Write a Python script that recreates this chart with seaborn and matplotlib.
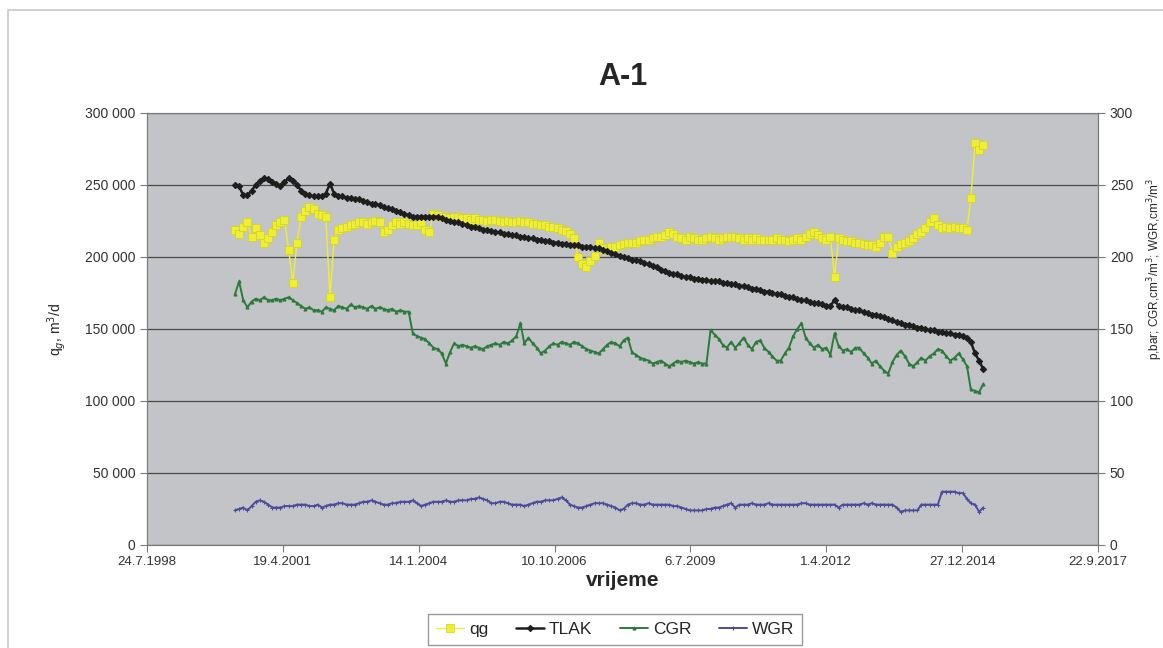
import pandas as pd
import matplotlib.pyplot as plt
import seaborn as sns
from matplotlib.patches import Rectangle
from matplotlib.ticker import FuncFormatter

# mjesečni podaci, 5/2000 - 6/2015
mjeseci = pd.date_range("2000-05", "2015-06", freq="MS")

qg = [
    219000, 216000, 221000, 224000, 214000, 220000, 215000, 210000, 213000, 217000, 222000, 224000,
    226000, 205000, 182000, 210000, 228000, 232000, 235000, 233000, 230000, 229000, 228000, 172000,
    212000, 219000, 220000, 221000, 222000, 223000, 224000, 224000, 223000, 224000, 225000, 224000,
    217000, 219000, 222000, 224000, 223000, 224000, 223000, 222000, 222000, 224000, 219000, 217000,
    230000, 229000, 228000, 228000, 227000, 228000, 228000, 227000, 227000, 226000, 227000, 226000,
    226000, 225000, 226000, 226000, 225000, 224000, 225000, 224000, 224000, 225000, 224000, 224000,
    223000, 223000, 222000, 222000, 221000, 221000, 220000, 219000, 218000, 216000, 213000, 200000,
    195000, 193000, 197000, 201000, 210000, 206000, 205000, 207000, 207000, 208000, 209000, 210000,
    210000, 210000, 211000, 212000, 212000, 213000, 214000, 214000, 215000, 217000, 216000, 214000,
    213000, 212000, 214000, 213000, 212000, 212000, 213000, 214000, 213000, 212000, 213000, 214000,
    214000, 214000, 213000, 212000, 213000, 212000, 213000, 212000, 212000, 212000, 212000, 213000,
    212000, 212000, 211000, 212000, 213000, 212000, 214000, 216000, 217000, 215000, 213000, 212000,
    214000, 186000, 213000, 212000, 211000, 211000, 210000, 210000, 209000, 208000, 208000, 207000,
    210000, 214000, 214000, 203000, 207000, 209000, 210000, 211000, 213000, 216000, 217000, 220000,
    224000, 227000, 222000, 220000, 221000, 220000, 221000, 220000, 220000, 219000, 241000, 279000,
    274000, 278000,
]

tlak = [
    250, 249, 243, 243, 246, 250, 253, 255, 254, 252, 251, 249,
    252, 255, 253, 250, 246, 244, 243, 242, 242, 242, 244, 251,
    244, 242, 242, 241, 241, 240, 240, 239, 238, 237, 237, 236,
    235, 234, 233, 232, 231, 230, 229, 228, 228, 228, 228, 228,
    228, 228, 227, 226, 225, 224, 224, 223, 222, 221, 221, 220,
    219, 219, 218, 217, 217, 216, 216, 215, 215, 214, 214, 213,
    213, 212, 212, 211, 211, 210, 210, 209, 209, 208, 208, 208,
    207, 207, 207, 206, 206, 205, 204, 203, 202, 201, 200, 199,
    198, 198, 197, 196, 195, 194, 193, 191, 190, 189, 188, 188,
    187, 186, 186, 185, 185, 184, 184, 183, 183, 183, 182, 182,
    181, 181, 180, 180, 179, 178, 178, 177, 176, 176, 175, 174,
    174, 173, 172, 172, 171, 170, 170, 169, 168, 168, 167, 166,
    166, 170, 166, 165, 165, 164, 163, 163, 162, 161, 160, 160,
    159, 158, 157, 156, 155, 154, 153, 153, 152, 151, 151, 150,
    149, 149, 148, 148, 147, 147, 146, 146, 145, 144, 141, 133,
    128, 122,
]

cgr = [
    174, 183, 170, 165, 169, 171, 170, 172, 170, 170, 171, 170,
    171, 172, 170, 168, 166, 164, 165, 163, 163, 162, 165, 164,
    163, 166, 165, 164, 167, 165, 166, 165, 164, 166, 164, 165,
    164, 163, 164, 162, 163, 162, 162, 147, 145, 144, 143, 140,
    137, 136, 133, 126, 134, 140, 138, 139, 138, 137, 138, 137,
    136, 138, 139, 140, 139, 141, 140, 142, 145, 154, 140, 144,
    140, 137, 133, 135, 138, 140, 139, 141, 140, 139, 141, 140,
    138, 136, 135, 134, 133, 136, 139, 141, 140, 138, 142, 144,
    134, 132, 130, 129, 128, 126, 127, 128, 126, 124, 126, 128,
    127, 128, 127, 126, 127, 126, 126, 149, 146, 143, 139, 137,
    141, 137, 140, 144, 139, 136, 141, 142, 137, 134, 131, 128,
    128, 133, 137, 145, 150, 154, 144, 140, 137, 139, 136, 137,
    132, 147, 138, 135, 136, 134, 137, 137, 133, 130, 126, 128,
    124, 121, 119, 127, 132, 135, 131, 126, 124, 127, 130, 128,
    131, 133, 136, 135, 131, 128, 130, 133, 129, 124, 108, 107,
    106, 112,
]

wgr = [
    24, 25, 26, 24, 27, 30, 31, 30, 28, 26, 26, 26,
    27, 27, 27, 28, 28, 28, 27, 27, 28, 26, 27, 28,
    28, 29, 29, 28, 28, 28, 29, 30, 30, 31, 30, 29,
    28, 28, 29, 29, 30, 30, 30, 31, 29, 27, 28, 29,
    30, 30, 30, 31, 30, 30, 31, 31, 31, 32, 32, 33,
    32, 31, 29, 29, 30, 30, 29, 28, 28, 28, 27, 28,
    29, 30, 30, 31, 31, 31, 32, 33, 31, 28, 27, 26,
    26, 27, 28, 29, 29, 29, 28, 27, 26, 24, 25, 28,
    29, 29, 28, 28, 29, 28, 28, 28, 28, 28, 27, 27,
    26, 25, 24, 24, 24, 24, 25, 25, 26, 26, 27, 28,
    29, 26, 28, 28, 28, 29, 28, 28, 28, 29, 28, 28,
    28, 28, 28, 28, 28, 29, 29, 28, 28, 28, 28, 28,
    28, 28, 26, 28, 28, 28, 28, 28, 29, 28, 29, 28,
    28, 28, 28, 28, 26, 23, 24, 24, 24, 24, 28, 28,
    28, 28, 28, 37, 37, 37, 37, 36, 36, 32, 29, 28,
    23, 26,
]

x_oznake = ["24.7.1998", "19.4.2001", "14.1.2004", "10.10.2006",
            "6.7.2009", "1.4.2012", "27.12.2014", "22.9.2017"]
x_pozicije = pd.to_datetime(x_oznake, format="%d.%m.%Y")

sns.set_style("white")
plt.rcParams["font.family"] = ["Liberation Sans", "DejaVu Sans"]

fig = plt.figure(figsize=(11.63, 6.48), dpi=100)
fig.patches.append(Rectangle((0.007, -0.05), 1.1, 1.035, transform=fig.transFigure,
                             fill=False, edgecolor="#c8c8c8", linewidth=1.2))

ax = fig.add_axes([0.1264, 0.159, 0.8177, 0.6667])
ax.set_facecolor("#c2c4c7")
ax2 = ax.twinx()

# qg na lijevoj osi
sns.lineplot(x=mjeseci, y=qg, ax=ax, color="#eeee3a", linewidth=1.0, marker="s",
             markersize=5.5, markeredgecolor="#d4d428", markeredgewidth=0.6, label="qg", zorder=3)

# tlak, CGR, WGR na desnoj osi
sns.lineplot(x=mjeseci, y=tlak, ax=ax2, color="#1e1e1e", linewidth=1.8, marker="D",
             markersize=3.2, markeredgecolor="#1e1e1e", label="TLAK")
sns.lineplot(x=mjeseci, y=cgr, ax=ax2, color="#2e7a3c", linewidth=1.4, marker="^",
             markersize=2.2, markeredgecolor="#2e7a3c", label="CGR")
sns.lineplot(x=mjeseci, y=wgr, ax=ax2, color="#4a4c9c", linewidth=1.4, marker="+",
             markersize=2.5, markeredgecolor="#4a4c9c", label="WGR")

for a in (ax, ax2):
    a.set_xlim(x_pozicije[0], x_pozicije[-1])
    if a.get_legend() is not None:
        a.get_legend().remove()

ax.set_ylim(0, 300000)
ax.set_yticks(range(0, 300001, 50000))
ax.yaxis.set_major_formatter(FuncFormatter(lambda v, p: f"{int(v):,}".replace(",", " ")))
ax2.set_ylim(0, 300)
ax2.set_yticks(range(0, 301, 50))

ax.set_xticks(x_pozicije)
ax.set_xticklabels(x_oznake)

ax.grid(axis="y", color="#4a4a4a", linewidth=0.9)
ax.set_axisbelow(True)

for a in (ax, ax2):
    for s in a.spines.values():
        s.set_color("#7a7a7a")
    a.tick_params(axis="both", direction="out", length=5, color="#7a7a7a",
                  labelsize=10, labelcolor="#333333", left=(a is ax), right=(a is ax2), bottom=True)
ax.tick_params(axis="x", labelsize=9.5, pad=3)

ax.set_xlabel("vrijeme", fontsize=15, fontweight="bold", labelpad=2)
ax.set_ylabel(r"q$_g$, m$^3$/d", fontsize=10, labelpad=12)
ax2.set_ylabel(r"p,bar; CGR,cm$^3$/m$^3$; WGR,cm$^3$/m$^3$", fontsize=8.5)
ax2.yaxis.set_label_coords(1.05, 0.64)

ax.set_title("A-1", fontsize=22, fontweight="bold", pad=20)

h1, l1 = ax.get_legend_handles_labels()
h2, l2 = ax2.get_legend_handles_labels()
leg = fig.legend(h1 + h2, l1 + l2, loc="center", bbox_to_anchor=(0.529, 0.028), ncol=4,
                 fontsize=12.5, frameon=True, fancybox=False, edgecolor="#808080",
                 handlelength=1.6, handletextpad=0.3, columnspacing=1.6, borderpad=0.45)
leg.get_frame().set_linewidth(1.0)

plt.savefig("out.png", dpi=100)
